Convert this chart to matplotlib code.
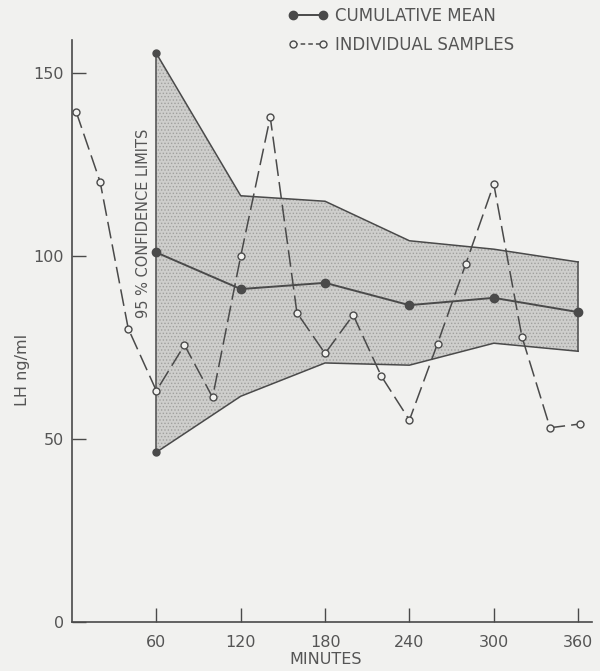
import matplotlib
matplotlib.use("Agg")
import matplotlib.pyplot as plt
from matplotlib.lines import Line2D

# cumulative mean and its 95% confidence band
mean_min = [60, 120, 180, 240, 300, 360]
mean_lh = [101, 91, 92.7, 86.6, 88.6, 84.7]
upper_lh = [155.4, 116.5, 115, 104.2, 101.9, 98.4]
lower_lh = [46.4, 61.7, 70.8, 70.2, 76.2, 74]

# individual samples every 20 min
sample_min = [3, 20, 40, 60, 80, 100, 120, 141, 160, 180, 200, 220, 240, 260, 280, 300, 320, 340, 361]
sample_lh = [139.4, 120.3, 80.2, 63.2, 75.7, 61.4, 100, 138, 84.5, 73.4, 83.9, 67.2,
             55.2, 76.1, 97.8, 119.7, 78, 53.1, 54.1]

x_ticks = [60, 120, 180, 240, 300, 360]
y_ticks = [0, 50, 100, 150]

ink = '#4a4a4a'
txt = '#555555'
bg = '#f1f1ef'

plt.rcParams['font.family'] = ['DejaVu Sans']
plt.rcParams['hatch.linewidth'] = 0.6

fig = plt.figure(figsize=(6, 6.71), dpi=100, facecolor=bg)
ax = fig.add_axes([0.12, 0.073, 0.867, 0.867])
ax.set_facecolor(bg)

# stippled confidence band with outline
ax.fill_between(mean_min, lower_lh, upper_lh, facecolor='#cececc', edgecolor='#a0a09e',
                hatch='.....', lw=0, zorder=1)
ax.plot(mean_min, upper_lh, color=ink, lw=1.1, zorder=2)
ax.plot(mean_min, lower_lh, color=ink, lw=1.1, zorder=2)
ax.plot([mean_min[0], mean_min[0]], [lower_lh[0], upper_lh[0]], color=ink, lw=1.1, zorder=2)
ax.plot([mean_min[-1], mean_min[-1]], [lower_lh[-1], upper_lh[-1]], color=ink, lw=1.1, zorder=2)
ax.plot([mean_min[0], mean_min[0]], [lower_lh[0], upper_lh[0]], 'o', color=ink, ms=5, zorder=4)

# individual samples
ax.plot(sample_min, sample_lh, color=ink, lw=1.1, ls=(0, (11, 4)), marker='o',
        ms=5, mfc=bg, mec=ink, mew=1.0, zorder=3)

# cumulative mean
ax.plot(mean_min, mean_lh, color=ink, lw=1.4, marker='o', ms=6, zorder=4)

ax.text(51, 109, '95 % CONFIDENCE LIMITS', rotation=90, ha='center', va='center',
        fontsize=10.5, color=txt)

ax.set_xlim(0, 370)
ax.set_ylim(0, 159)
ax.set_xticks(x_ticks)
ax.set_yticks(y_ticks)
ax.tick_params(direction='in', length=10, width=1, color=ink, labelcolor=txt, labelsize=11.5)
ax.tick_params(axis='y', pad=6)
ax.tick_params(axis='x', pad=9)
for s in ['top', 'right']:
    ax.spines[s].set_visible(False)
for s in ['left', 'bottom']:
    ax.spines[s].set_color(ink)
    ax.spines[s].set_linewidth(1.2)

ax.set_ylabel('LH ng/ml', color=txt, fontsize=11.5)
ax.yaxis.set_label_coords(-0.081, 0.433)
ax.set_xlabel('MINUTES', color=txt, fontsize=11.5)
ax.xaxis.set_label_coords(0.487, -0.052)

h_mean = Line2D([], [], color=ink, lw=1.4, marker='o', ms=6)
h_samp = Line2D([], [], color=ink, lw=1.1, ls=(0, (3, 2)), marker='o', ms=5, mfc=bg, mec=ink)
fig.legend([h_mean, h_samp], ['CUMULATIVE MEAN', 'INDIVIDUAL SAMPLES'],
           loc='upper left', bbox_to_anchor=(0.455, 1.012), frameon=False, numpoints=2,
           handlelength=2.4, handletextpad=0.4, labelspacing=0.65, fontsize=12,
           labelcolor=txt)

fig.savefig('out.png', dpi=100, facecolor=bg)
